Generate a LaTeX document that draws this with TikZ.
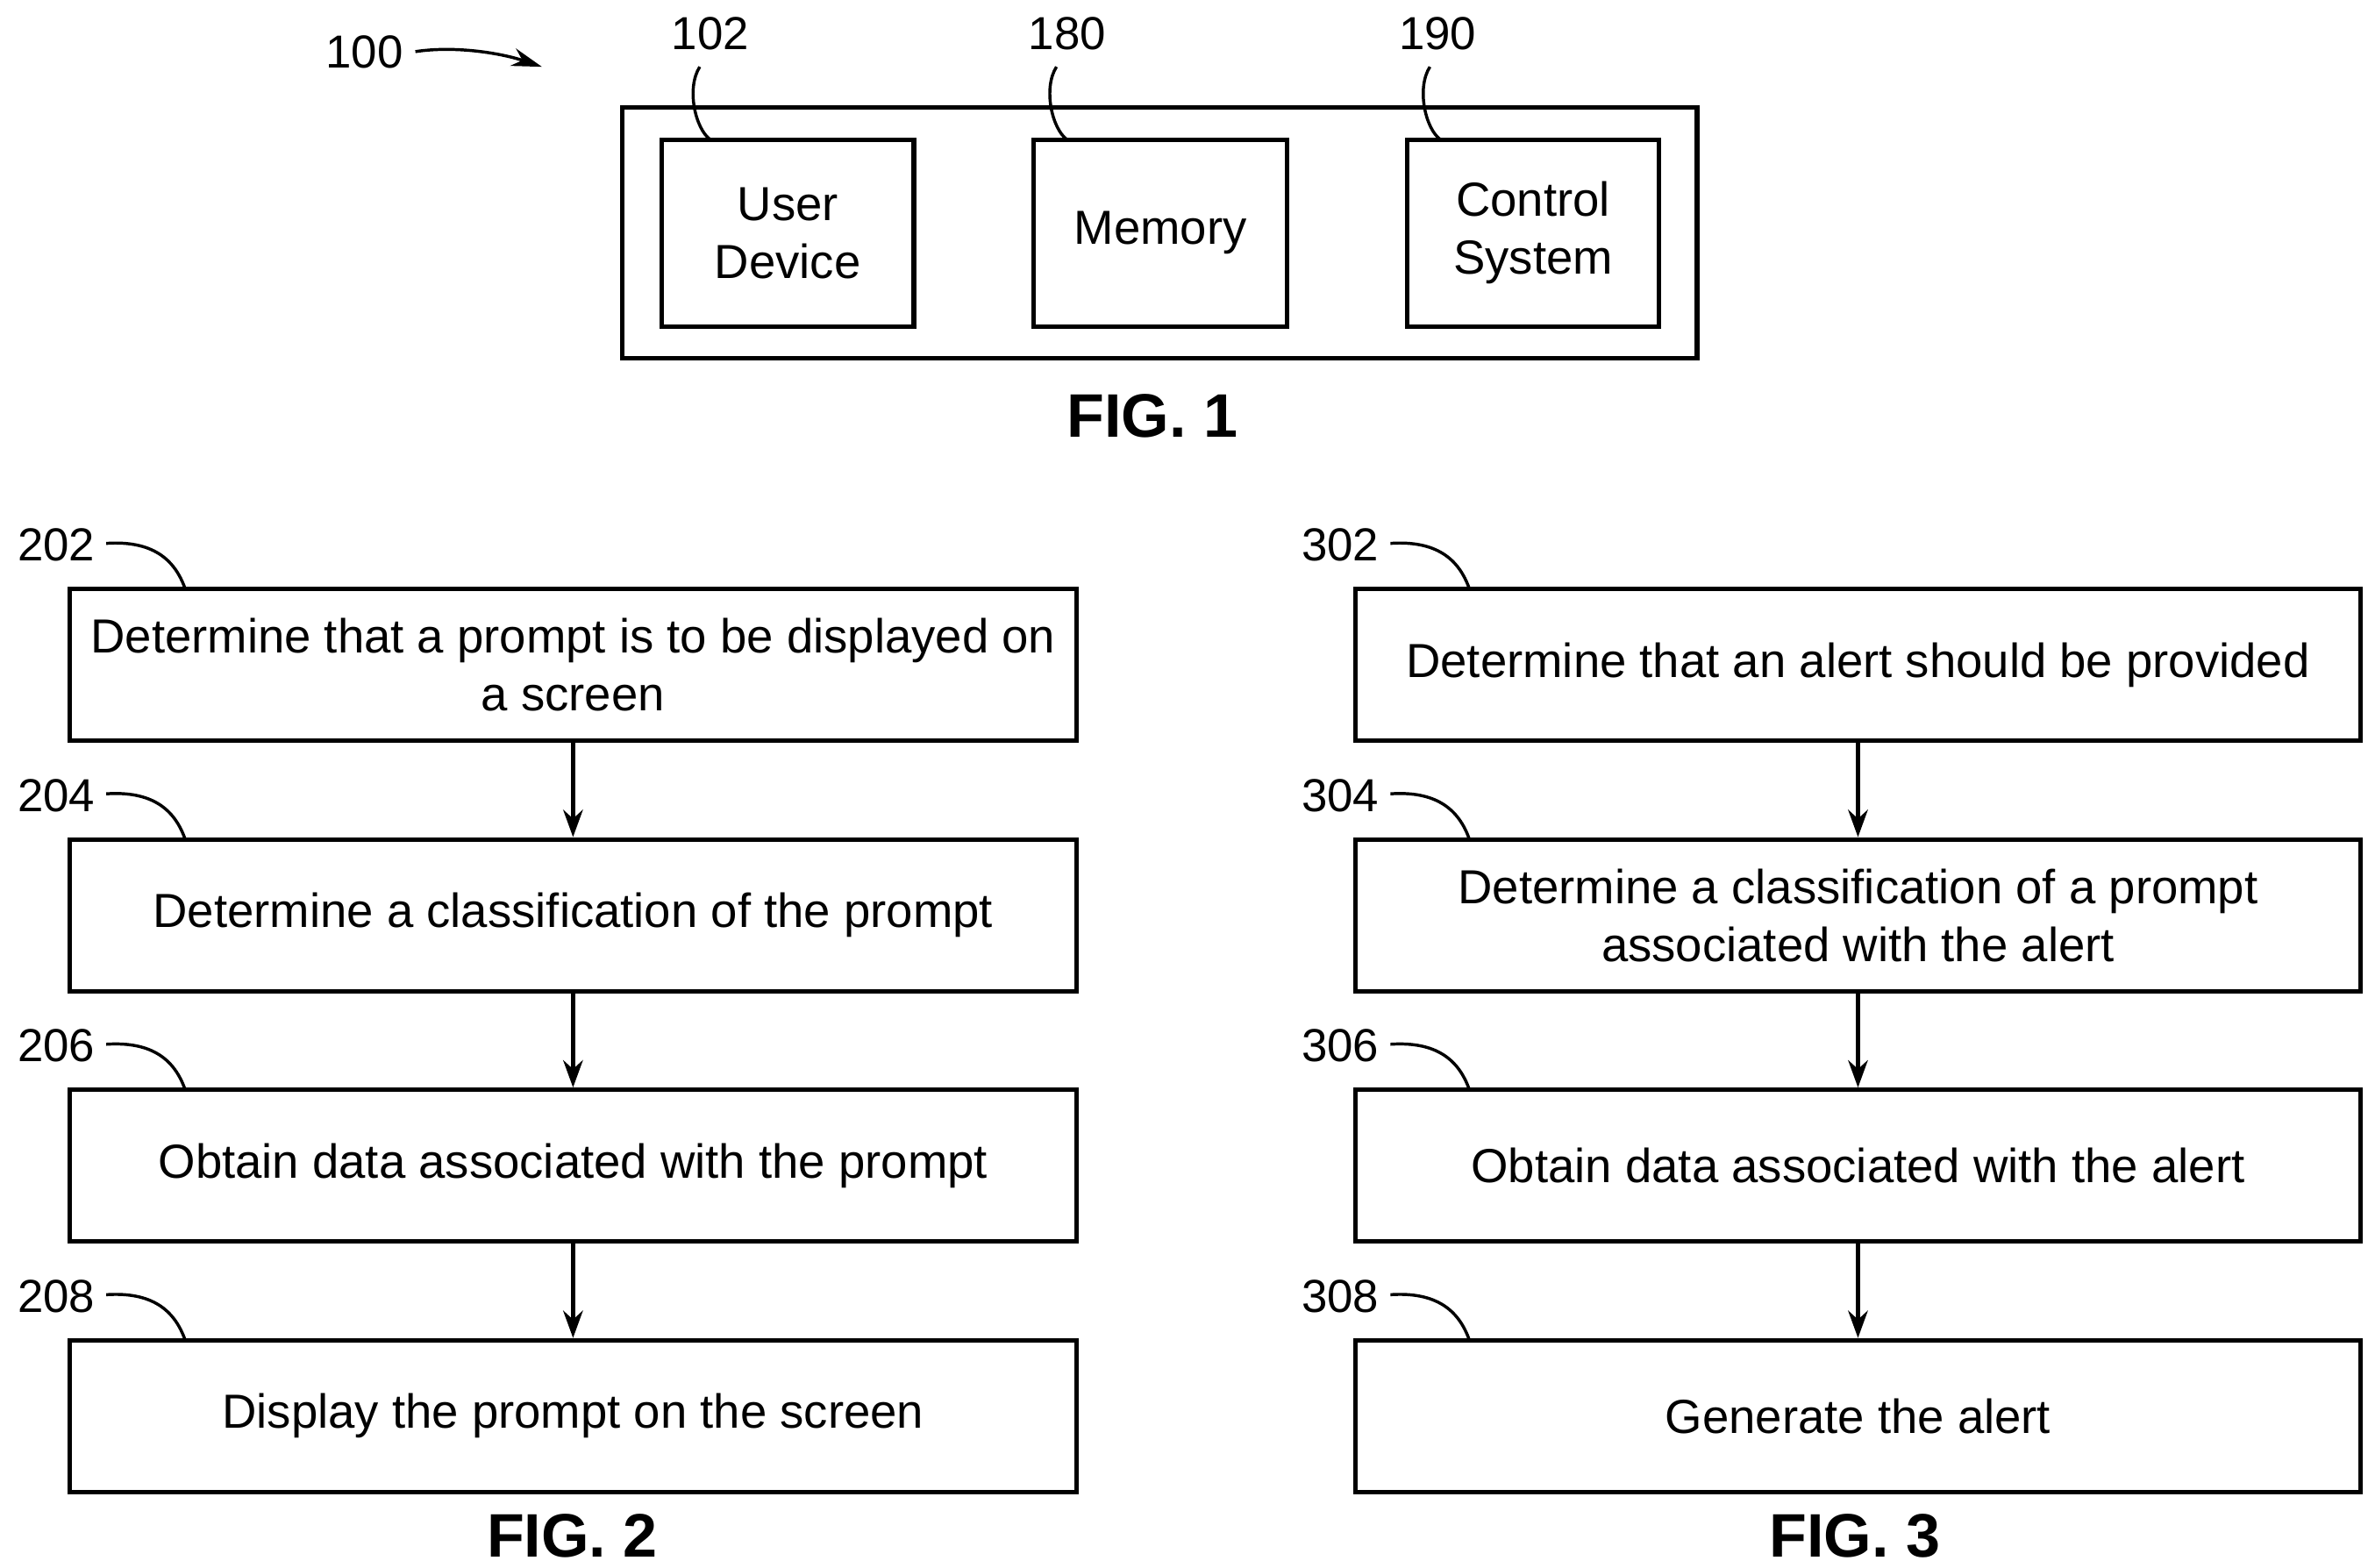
\documentclass[tikz,border=0pt]{standalone}
\usepackage{fontspec}
\setmainfont{Liberation Sans}
\usetikzlibrary{arrows.meta}
\begin{document}
\begin{tikzpicture}[x=1pt,y=-1pt,
  box/.style={draw,line width=3pt,inner sep=0pt,align=center,font=\fontsize{31.5}{38}\selectfont},
  lbl/.style={font=\fontsize{30.5}{32}\selectfont,inner sep=0pt},
  fig/.style={font=\fontsize{40.5}{44}\selectfont\bfseries,inner sep=0pt},
  lead/.style={line width=2pt},
  arr/.style={line width=2.5pt,-{Stealth[length=18pt,width=13pt]}}]
\useasboundingbox (0,0) rectangle (1560,1033);
% FIG 1
\node[box,minimum width=708pt,minimum height=165pt] (outer) at (764,153.5) {};
\node[box,minimum width=166pt,minimum height=123pt] (ud) at (519,153.5) {User\\Device};
\node[box,minimum width=167pt,minimum height=123pt] (mem) at (764.5,153.5) {Memory};
\node[box,minimum width=166pt,minimum height=123pt] (cs) at (1010,153.5) {Control\\System};
\node[lbl] (l102) at (468,22) {102};
\node[lbl] (l180) at (703,22) {180};
\node[lbl] (l190) at (947,22) {190};
\draw[lead] (461,44) .. controls (452,58) and (458,85) .. (468,92);
\draw[lead] (696,44) .. controls (687,58) and (693,85) .. (703,92);
\draw[lead] (942,44) .. controls (933,58) and (939,85) .. (949,92);
\node[lbl] (l100) at (240,34) {100};
\coordinate (a100) at (357,44);
\draw[line width=2pt,-{Stealth[length=20pt,width=12pt]}] (l100.east) ++(8,0) .. controls (300,30) and (330,35) .. (a100);
\node[fig] (f1) at (759,274) {FIG. 1};
% FIG 2
\foreach \n/\y/\t in {202/438/{Determine that a prompt is to be displayed on\\a screen},204/603/{Determine a classification of the prompt},206/768/{Obtain data associated with the prompt},208/933/{Display the prompt on the screen}}{
  \node[box,minimum width=663pt,minimum height=100pt] (b\n) at (377.5,\y) {\t};
  \node[lbl] (l\n) at (37,\y-79) {\n};
  \draw[lead] (70,\y-80) .. controls (100,\y-82) and (115,\y-70) .. (122,\y-50);
}
\foreach \n/\y/\t in {302/438/{Determine that an alert should be provided},304/603/{Determine a classification of a prompt\\associated with the alert},306/768/{Obtain data associated with the alert},308/933/{Generate the alert}}{
  \node[box,minimum width=662pt,minimum height=100pt] (b\n) at (1224,\y) {\t};
  \node[lbl] (l\n) at (883,\y-79) {\n};
  \draw[lead] (916,\y-80) .. controls (946,\y-82) and (961,\y-70) .. (968,\y-50);
}
\draw[arr] (b202) -- (b204);
\draw[arr] (b204) -- (b206);
\draw[arr] (b206) -- (b208);
\draw[arr] (b302) -- (b304);
\draw[arr] (b304) -- (b306);
\draw[arr] (b306) -- (b308);
\node[fig] (f2) at (377,1012) {FIG. 2};
\node[fig] (f3) at (1222,1012) {FIG. 3};
\end{tikzpicture}
\end{document}
